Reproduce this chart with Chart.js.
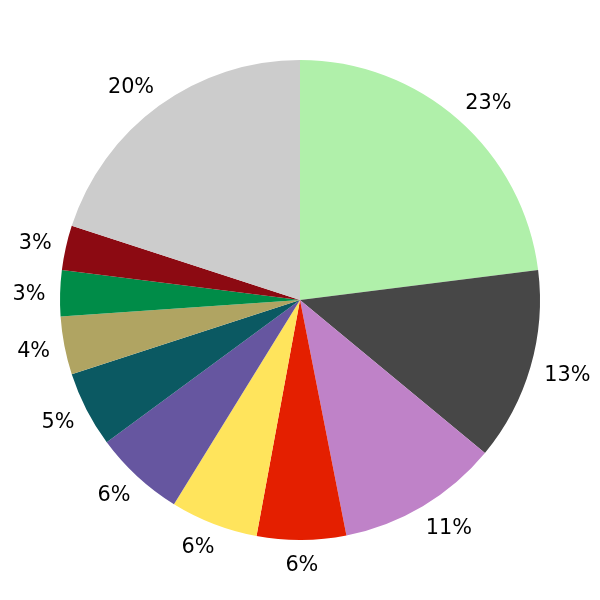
<!DOCTYPE html>
<html>
<head>
<meta charset="utf-8">
<script src="https://cdn.jsdelivr.net/npm/chart.js@4/dist/chart.umd.min.js"></script>
<style>
  body { margin: 0; background: #fff; }
</style>
</head>
<body>
<canvas id="pie-chart" width="600" height="600"></canvas>
<script>
const ctx = document.getElementById('pie-chart');

const categories = ['A', 'B', 'C', 'D', 'E', 'F', 'G', 'H', 'I', 'J', 'K'];
const values = [23, 13, 10.9, 6, 5.9, 6.1, 5.1, 3.9, 3.1, 3, 20];
const colors = [
    '#b0f0aa', '#474747', '#bf82c8', '#e41f00', '#ffe45c', '#6656a0',
    '#0b5962', '#b0a462', '#008c48', '#8c0a12', '#cccccc'
];

const total = values.reduce((a, b) => a + b, 0);
const FONT_SIZE = 20.8;

// percent text just outside each slice, pushed sideways a bit like the original
const outsideLabels = {
    id: 'outsideLabels',
    afterDatasetsDraw(chart) {
        const c = chart.ctx;
        const meta = chart.getDatasetMeta(0);
        c.save();
        c.font = FONT_SIZE + 'px "DejaVu Sans"';
        c.fillStyle = '#000';
        c.textAlign = 'center';
        c.textBaseline = 'alphabetic';
        meta.data.forEach((arc, i) => {
            const text = Math.round(values[i] / total * 100) + '%';
            const mid = (arc.startAngle + arc.endAngle) / 2;
            const r = arc.outerRadius * 1.1;
            const cos = Math.cos(mid);
            const half = c.measureText(text).width / 2;
            const side = Math.max(-1, Math.min(1, cos / 0.2));
            const x = arc.x + cos * r + side * (half - 9.3);
            const y = arc.y + Math.sin(mid) * r - 0.6;
            c.fillText(text, x, y + FONT_SIZE * 0.3645);
        });
        c.restore();
    }
};

new Chart(ctx, {
    type: 'pie',
    data: {
        labels: categories,
        datasets: [
            {
                data: values,
                backgroundColor: colors,
                borderWidth: 0
            }
        ]
    },
    options: {
        responsive: false,
        animation: false,
        layout: {
            padding: 60
        },
        plugins: {
            legend: { display: false },
            tooltip: { enabled: false }
        }
    },
    plugins: [outsideLabels]
});
</script>
</body>
</html>
